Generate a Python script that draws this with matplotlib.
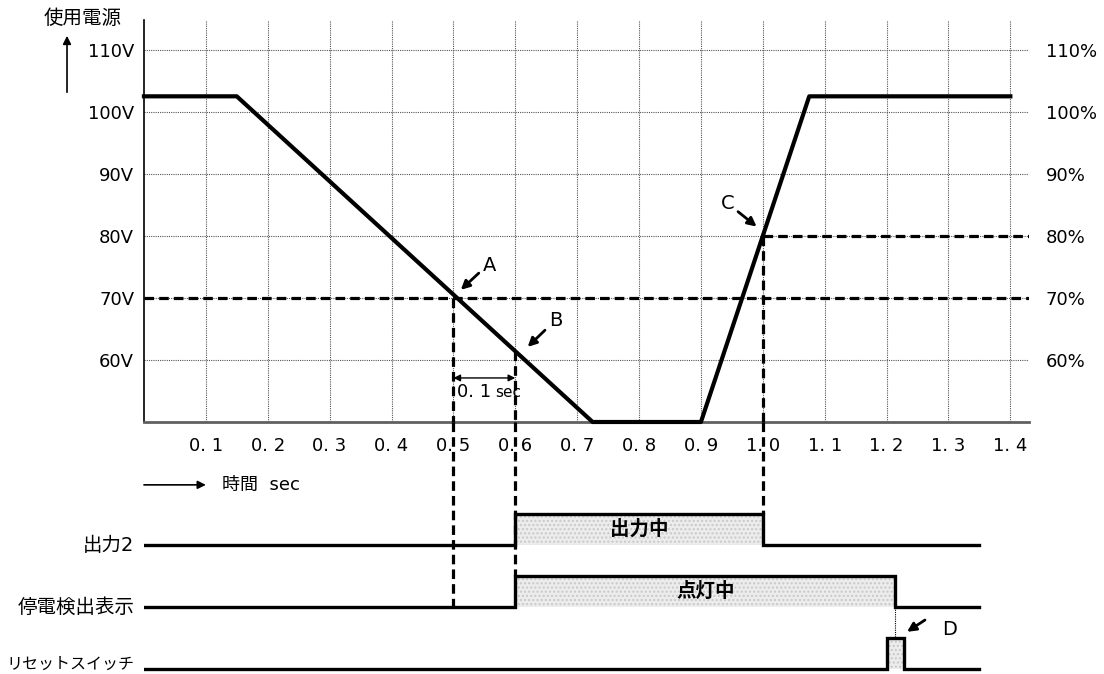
import matplotlib
matplotlib.use("Agg")
import matplotlib.pyplot as plt

plt.rcParams["font.family"] = ["DejaVu Sans", "Noto Sans CJK JP"]

# voltage curve (time sec, volts)
volt_t = [0, 0.15, 0.725, 0.9, 1.075, 1.4]
volt_v = [102.5, 102.5, 50, 50, 102.5, 102.5]

volt_ticks = [60, 70, 80, 90, 100, 110]
volt_labels = ["60V", "70V", "80V", "90V", "100V", "110V"]
pct_labels = ["60%", "70%", "80%", "90%", "100%", "110%"]
time_ticks = [0.1, 0.2, 0.3, 0.4, 0.5, 0.6, 0.7, 0.8, 0.9, 1.0, 1.1, 1.2, 1.3, 1.4]
time_labels = ["0. 1", "0. 2", "0. 3", "0. 4", "0. 5", "0. 6", "0. 7",
               "0. 8", "0. 9", "1. 0", "1. 1", "1. 2", "1. 3", "1. 4"]

low_level = 70     # A
restore_level = 80  # C
t_a = 0.5
t_b = 0.6
t_c = 1.0
v_b = 61.4

# timing signals (0 = low, 1 = high)
out2_t = [0, 0.6, 0.6, 1.0, 1.0, 1.35]
out2_s = [0, 0, 1, 1, 0, 0]
lamp_t = [0, 0.6, 0.6, 1.214, 1.214, 1.35]
lamp_s = [0, 0, 1, 1, 0, 0]
reset_t = [0, 1.2, 1.2, 1.228, 1.228, 1.35]
reset_s = [0, 0, 1, 1, 0, 0]
signal_names = ["リセットスイッチ", "停電検出表示", "出力2"]
name_sizes = [11.5, 14, 14]

fig = plt.figure(figsize=(11.04, 6.74), dpi=100)
ax = fig.add_axes([0.1304, 0.3739, 0.8016, 0.5964])
ax2 = fig.add_axes([0.1304, 0.0, 0.8016, 0.3739], sharex=ax)
ax2.set_ylim(-0.0806, 3.984)
ax2.axis("off")
ax2.patch.set_visible(False)

ax.set_xlim(0, 1.43)
ax.set_ylim(50, 114.8)
ax.set_xticks(time_ticks)
ax.set_xticklabels(time_labels, fontsize=13)
ax.set_yticks(volt_ticks)
ax.set_yticklabels(volt_labels, fontsize=13)
ax.tick_params(length=0)
ax.tick_params(axis="x", pad=11)
ax.tick_params(axis="y", pad=7)
ax.grid(True, color="#555555", linestyle=(0, (1, 1)), linewidth=0.8)
for s in ["top", "right"]:
    ax.spines[s].set_visible(False)
ax.spines["left"].set_linewidth(1.2)
ax.spines["bottom"].set_color("#606060")
ax.spines["bottom"].set_linewidth(2)

axr = ax.twinx()
axr.set_ylim(ax.get_ylim())
axr.set_yticks(volt_ticks)
axr.set_yticklabels(pct_labels, fontsize=13)
axr.tick_params(length=0, pad=12)
for s in axr.spines.values():
    s.set_visible(False)

# voltage and thresholds
ax.plot(volt_t, volt_v, color="black", lw=3.0, clip_on=False, zorder=5)
dash = (0, (3, 1.6))
ax.plot([0, 1.43], [low_level, low_level], color="black", lw=2.3, ls=dash, zorder=4)
ax.plot([t_c, 1.43], [restore_level, restore_level], color="black", lw=2.3, ls=dash, zorder=4)

# vertical dashed lines, continued into the timing panel
ax.plot([t_a, t_a], [low_level, 50], color="black", lw=2.3, ls=dash, clip_on=False, zorder=4)
ax.plot([t_b, t_b], [v_b, 50], color="black", lw=2.3, ls=dash, clip_on=False, zorder=4)
ax.plot([t_c, t_c], [restore_level, 50], color="black", lw=2.3, ls=dash, clip_on=False, zorder=4)
ax2.plot([t_a, t_a], [3.984, 1.0], color="black", lw=2.3, ls=dash)
ax2.plot([t_b, t_b], [3.984, 1.5], color="black", lw=2.3, ls=dash)
ax2.plot([t_c, t_c], [3.984, 2.5], color="black", lw=2.3, ls=dash)

# 0.1 sec interval
ax.annotate("", xy=(t_a, 57.1), xytext=(t_b, 57.1),
            arrowprops=dict(arrowstyle="<|-|>", color="black", lw=1, mutation_scale=10,
                            shrinkA=0, shrinkB=0))
ax.text(0.506, 54.8, "0. 1", fontsize=13, va="center", ha="left")
ax.text(0.568, 54.8, "sec", fontsize=11, va="center", ha="left")

# point labels
arrow_kw = dict(arrowstyle="-|>", color="black", lw=2, mutation_scale=13, shrinkA=0, shrinkB=0)
ax.annotate("", xy=(0.512, 71.3), xytext=(0.541, 74.0), arrowprops=arrow_kw)
ax.text(0.559, 75.3, "A", fontsize=14, ha="center", va="center")
ax.annotate("", xy=(0.620, 62.1), xytext=(0.648, 64.8), arrowprops=arrow_kw)
ax.text(0.665, 66.3, "B", fontsize=14, ha="center", va="center")
ax.annotate("", xy=(0.990, 81.5), xytext=(0.960, 83.9), arrowprops=arrow_kw)
ax.text(0.943, 85.3, "C", fontsize=14, ha="center", va="center")

# axis captions
fig.text(0.0745, 0.973, "使用電源", fontsize=14, ha="center", va="center")
fig.patches.append(matplotlib.patches.FancyArrowPatch(
    (0.0607, 0.859), (0.0607, 0.951), transform=fig.transFigure,
    arrowstyle="-|>", mutation_scale=12, color="black", lw=1.2))
ax2.annotate("", xy=(0.1, 2.97), xytext=(0.0, 2.97),
             arrowprops=dict(arrowstyle="-|>", color="black", lw=1.2, mutation_scale=12,
                             shrinkA=0, shrinkB=0))
ax2.text(0.126, 2.97, "時間  sec", fontsize=13, ha="left", va="center")

# timing signals
signals = [(reset_t, reset_s), (lamp_t, lamp_s), (out2_t, out2_s)]
label_y = [0.07, 1.0, 2.0]
for row, (ts, ss) in enumerate(signals):
    levels = [row + 0.5 * s for s in ss]
    ax2.fill_between(ts, row, levels, facecolor="#ececec", edgecolor="#c8c8c8",
                     hatch="....", linewidth=0)
    ax2.plot(ts, levels, color="black", lw=2.4, solid_joinstyle="miter")
    ax2.text(-0.015, label_y[row], signal_names[row], fontsize=name_sizes[row], ha="right",
             va="center", clip_on=False)

ax2.text(0.80, 2.25, "出力中", fontsize=14, fontweight="bold", ha="center", va="center")
ax2.text(0.907, 1.25, "点灯中", fontsize=14, fontweight="bold", ha="center", va="center")

ax2.plot([1.214, 1.214], [1.0, 0.5], color="black", lw=0.8, ls=(0, (1, 1)))
ax2.annotate("", xy=(1.233, 0.60), xytext=(1.262, 0.79), arrowprops=arrow_kw)
ax2.text(1.289, 0.63, "D", fontsize=14, ha="left", va="center")

fig.savefig("out.png", dpi=100)
